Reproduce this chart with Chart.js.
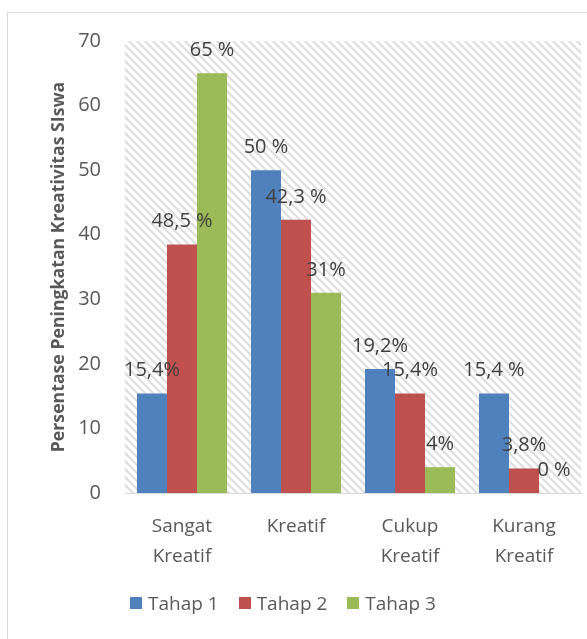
<!DOCTYPE html>
<html>
<head>
<meta charset="utf-8">
<script src="https://cdn.jsdelivr.net/npm/chart.js@4.4.1/dist/chart.umd.min.js"></script>
<style>
  html, body { margin: 0; padding: 0; background: #fff; overflow: hidden; }
  #frame { position: absolute; left: 7px; top: 12px; width: 700px; height: 700px; border: 1px solid #d9d9d9; }
  #wrap { position: absolute; left: 0; top: 0; width: 587px; height: 639px; }
  #legend { position: absolute; left: 130px; top: 590px; display: flex; font-family: "Open Sans", sans-serif; font-size: 19px; color: #595959; }
  #legend .item { display: flex; align-items: center; margin-right: 20px; }
  #legend .box { width: 12px; height: 12px; margin-right: 6px; }
</style>
</head>
<body>
<div id="frame"></div>
<div id="wrap"><canvas id="chart" width="587" height="639"></canvas></div>
<div id="legend"></div>
<script>
const categories = [["Sangat", "Kreatif"], "Kreatif", ["Cukup", "Kreatif"], ["Kurang", "Kreatif"]];
const tahap1 = [15.4, 50, 19.2, 15.4];
const tahap2 = [38.5, 42.3, 15.4, 3.8];
const tahap3 = [65, 31, 4, 0];
const labels1 = ["15,4%", "50 %", "19,2%", "15,4 %"];
const labels2 = ["48,5 %", "42,3 %", "15,4%", "3,8%"];
const labels3 = ["65 %", "31%", "4%", "0 %"];
const yTicks = [0, 10, 20, 30, 40, 50, 60, 70];

const fontFamily = "'Open Sans', sans-serif";

// diagonal hatch for the plot area
function makeHatch() {
    const c = document.createElement("canvas");
    c.width = 8; c.height = 8;
    const g = c.getContext("2d");
    g.strokeStyle = "#dedede";
    g.lineWidth = 2.2;
    g.beginPath();
    g.moveTo(-1, -1); g.lineTo(9, 9);
    g.moveTo(-1, 7); g.lineTo(1, 9);
    g.moveTo(7, -1); g.lineTo(9, 1);
    g.stroke();
    return c;
}

const hatchPlugin = {
    id: "hatch",
    beforeDraw(chart) {
        const { ctx, chartArea } = chart;
        ctx.save();
        ctx.fillStyle = ctx.createPattern(makeHatch(), "repeat");
        ctx.fillRect(chartArea.left, chartArea.top, chartArea.right - chartArea.left, chartArea.bottom - chartArea.top);
        ctx.restore();
    }
};

const valueLabels = [labels1, labels2, labels3];
const labelPlugin = {
    id: "valueLabels",
    afterDatasetsDraw(chart) {
        const ctx = chart.ctx;
        ctx.save();
        ctx.font = "20px " + fontFamily;
        ctx.fillStyle = "#404040";
        ctx.textAlign = "center";
        ctx.textBaseline = "middle";
        chart.data.datasets.forEach((ds, i) => {
            chart.getDatasetMeta(i).data.forEach((bar, j) => {
                ctx.fillText(valueLabels[i][j], bar.x, bar.y - 23);
            });
        });
        ctx.restore();
    }
};

const colors = ["#4F81BD", "#C0504D", "#9BBB59"];
const names = ["Tahap 1", "Tahap 2", "Tahap 3"];
const series = [tahap1, tahap2, tahap3];

const chart = new Chart(document.getElementById("chart"), {
    type: "bar",
    data: {
        labels: categories,
        datasets: series.map((s, i) => ({
            label: names[i],
            data: s,
            backgroundColor: colors[i],
            barPercentage: 1,
            categoryPercentage: 0.79
        }))
    },
    options: {
        responsive: false,
        animation: false,
        layout: { padding: { top: 41, left: 48, right: 6, bottom: 0 } },
        plugins: { legend: { display: false }, tooltip: { enabled: false } },
        scales: {
            x: {
                grid: { display: false },
                border: { display: true, color: "#d9d9d9", width: 1 },
                ticks: { color: "#595959", font: { family: fontFamily, size: 19, lineHeight: 1.6 }, padding: 10, maxRotation: 0 },
                afterFit(scale) { scale.height = 146; }
            },
            y: {
                min: 0,
                max: 70,
                grid: { display: false, drawTicks: false },
                border: { display: false },
                afterBuildTicks(scale) { scale.ticks = yTicks.map(v => ({ value: v })); },
                ticks: { color: "#595959", font: { family: fontFamily, size: 20 }, padding: 24 },
                title: {
                    display: true,
                    text: "Persentase Peningkatan Kreativitas SIswa",
                    color: "#595959",
                    font: { family: fontFamily, size: 17.7, weight: "bold" },
                    padding: 0
                },
                afterFit(scale) { scale.width = 77; }
            }
        }
    },
    plugins: [hatchPlugin, labelPlugin]
});

// html legend
const legend = document.getElementById("legend");
chart.data.datasets.forEach(ds => {
    const item = document.createElement("div");
    item.className = "item";
    item.innerHTML = `<span class="box" style="background:${ds.backgroundColor}"></span><span>${ds.label}</span>`;
    legend.appendChild(item);
});
</script>
</body>
</html>
